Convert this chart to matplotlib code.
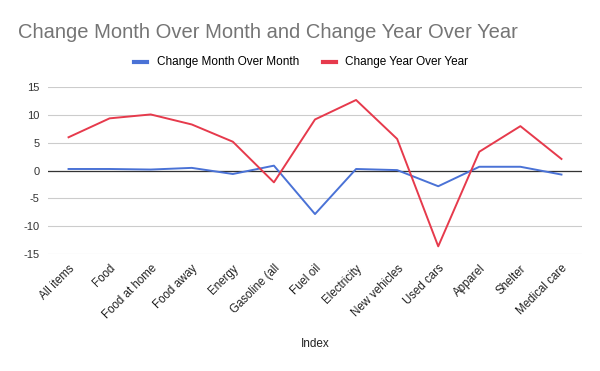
import matplotlib.pyplot as plt

plt.rcParams['font.family'] = ['Liberation Sans', 'DejaVu Sans']

categories = ["All items", "Food", "Food at home", "Food away", "Energy", "Gasoline (all",
              "Fuel oil", "Electricity", "New vehicles", "Used cars", "Apparel", "Shelter",
              "Medical care"]
month_over_month = [0.3, 0.3, 0.2, 0.5, -0.6, 0.9, -7.8, 0.3, 0.1, -2.8, 0.7, 0.7, -0.7]
year_over_year = [6.0, 9.4, 10.1, 8.3, 5.2, -2.1, 9.2, 12.7, 5.7, -13.6, 3.4, 8.0, 2.1]
y_ticks = [-15, -10, -5, 0, 5, 10, 15]

fig = plt.figure(figsize=(6, 3.71), dpi=100)
ax = fig.add_axes([0.08, 0.315, 0.89, 0.45])

x = range(len(categories))
ax.plot(x, month_over_month, color="#4a72d6", lw=1.4, label="Change Month Over Month")
ax.plot(x, year_over_year, color="#e63a4c", lw=1.4, label="Change Year Over Year")

ax.set_xlim(-0.5, len(categories) - 0.5)
ax.set_ylim(-15, 15)
ax.set_yticks(y_ticks)
ax.set_yticklabels([str(v) for v in y_ticks], fontsize=8, color="#333333")
ax.set_xticks(list(x))
ax.set_xticklabels(categories, rotation=45, ha="right", rotation_mode="anchor",
                   fontsize=8.3, color="#222222")
ax.tick_params(length=0, pad=6)
ax.grid(axis="y", color="#cccccc", lw=0.8)
ax.set_axisbelow(True)
ax.axhline(0, color="#333333", lw=0.9, zorder=1.5)
for s in ax.spines.values():
    s.set_visible(False)

ax.set_xlabel("Index", fontsize=8.5, color="#222222", labelpad=12)

fig.text(0.03, 0.912, "Change Month Over Month and Change Year Over Year",
         fontsize=14.5, color="#757575", va="center")
ax.legend(loc="center", bbox_to_anchor=(0.474, 1.15), ncol=2, frameon=False,
          fontsize=8.5, handlelength=1.1, handleheight=0.3, columnspacing=2.0,
          handletextpad=0.8)
leg = ax.get_legend()
for h in leg.get_lines():
    h.set_linewidth(3)

fig.savefig("out.png", dpi=100, facecolor="white")
